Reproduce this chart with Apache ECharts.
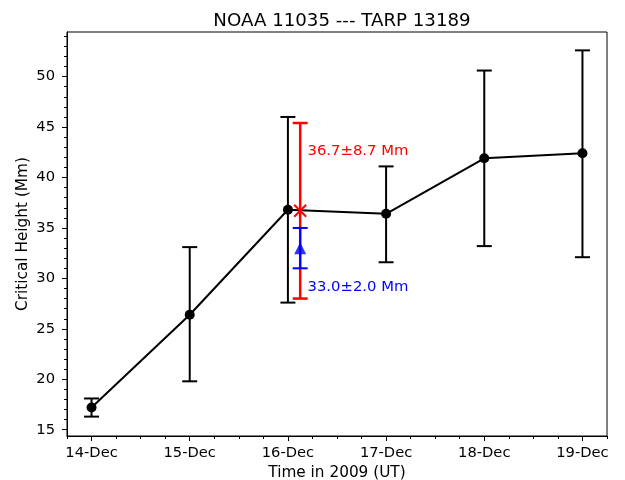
<!DOCTYPE html>
<html>
<head>
<meta charset="utf-8">
<script src="https://cdn.jsdelivr.net/npm/echarts@6/dist/echarts.min.js"></script>
<style>
  html, body { margin: 0; padding: 0; background: #fff; }
  #chart { width: 625px; height: 480px; }
</style>
</head>
<body>
<div id="chart"></div>
<script>
// days on the x axis (0 = 14-Dec)
var dayLabels = ["14-Dec", "15-Dec", "16-Dec", "17-Dec", "18-Dec", "19-Dec"];
var dayPos = [0, 1, 2, 3, 4, 5];

// NOAA 11035 critical heights (Mm) with error range
var heights = [17.2, 26.4, 36.8, 36.4, 41.9, 42.4];
var errLow = [16.3, 19.8, 27.6, 31.6, 33.2, 32.1];
var errHigh = [18.1, 33.1, 46.0, 41.1, 50.6, 52.6];

// TARP 13189 points (red x and blue triangle)
var tarpX = 2.125;
var redVal = 36.7, redErr = 8.7;
var blueVal = 33.0, blueErr = 2.0;
var redText = "36.7\u00b18.7 Mm";
var blueText = "33.0\u00b12.0 Mm";
var textX = 2.2;
var redTextY = 42.6;
var blueTextY = 29.1;

var yTicks = [15, 20, 25, 30, 35, 40, 45, 50];
var yMinor = [];
for (var v = 15; v <= 54; v++) yMinor.push(v);
var xMinor = [];
for (var q = -0.25; q <= 5.25; q += 0.25) xMinor.push(q);

var yMin = 14.38, yMax = 54.42;
var xMin = -0.25, xMax = 5.25;
var font = "DejaVu Sans";

function errBar(color, lw, capHalf) {
    return function (params, api) {
        var x = api.value(0);
        var top = api.coord([x, api.value(2)]);
        var bot = api.coord([x, api.value(1)]);
        var st = { stroke: color, lineWidth: lw };
        return {
            type: "group",
            children: [
                { type: "line", shape: { x1: top[0], y1: top[1], x2: bot[0], y2: bot[1] }, style: st },
                { type: "line", shape: { x1: top[0] - capHalf, y1: top[1], x2: top[0] + capHalf, y2: top[1] }, style: st },
                { type: "line", shape: { x1: bot[0] - capHalf, y1: bot[1], x2: bot[0] + capHalf, y2: bot[1] }, style: st }
            ]
        };
    };
}

var chart = echarts.init(document.getElementById("chart"), null, { renderer: "canvas" });

var option = {
    animation: false,
    backgroundColor: "#fff",
    title: {
        text: "NOAA 11035 --- TARP 13189",
        left: 337,
        top: 7,
        textAlign: "center",
        textStyle: { fontFamily: font, fontSize: 18.2, fontWeight: "normal", color: "#000" }
    },
    grid: {
        left: 67, right: 18, top: 32, bottom: 44,
        outerBoundsMode: "none",
        show: true, borderColor: "#000", borderWidth: 1, backgroundColor: "transparent"
    },
    xAxis: [
        {
            type: "value", min: xMin, max: xMax,
            name: "Time in 2009 (UT)", nameLocation: "middle", nameGap: 30, nameMoveOverlap: false,
            nameTextStyle: { fontFamily: font, fontSize: 15.3, color: "#000" },
            axisLine: { show: true, onZero: false, lineStyle: { color: "#000", width: 1 } },
            axisTick: { show: true, customValues: dayPos, length: 5, lineStyle: { color: "#000", width: 1 } },
            axisLabel: {
                customValues: dayPos, margin: 10,
                fontFamily: font, fontSize: 14.7, color: "#000",
                formatter: function (val) { return dayLabels[Math.round(val)]; }
            },
            splitLine: { show: false }
        },
        {
            type: "value", min: xMin, max: xMax, position: "bottom",
            axisLine: { show: false, onZero: false },
            axisTick: { show: true, customValues: xMinor, length: 3, lineStyle: { color: "#000", width: 1 } },
            axisLabel: { show: false },
            splitLine: { show: false }
        }
    ],
    yAxis: [
        {
            type: "value", min: yMin, max: yMax,
            name: "Critical Height (Mm)", nameLocation: "middle", nameGap: 36, nameMoveOverlap: false,
            nameTextStyle: { fontFamily: font, fontSize: 15.3, color: "#000" },
            axisLine: { show: true, onZero: false, lineStyle: { color: "#000", width: 1 } },
            axisTick: { show: true, customValues: yTicks, length: 5, lineStyle: { color: "#000", width: 1 } },
            axisLabel: { customValues: yTicks, margin: 12, fontFamily: font, fontSize: 14.7, color: "#000" },
            splitLine: { show: false }
        },
        {
            type: "value", min: yMin, max: yMax, position: "left",
            axisLine: { show: false, onZero: false },
            axisTick: { show: true, customValues: yMinor, length: 3, lineStyle: { color: "#000", width: 1 } },
            axisLabel: { show: false },
            splitLine: { show: false }
        }
    ],
    series: [
        {
            type: "custom",
            renderItem: errBar("#000", 2, 7.5),
            encode: { x: 0, y: [1, 2] },
            data: dayPos.map(function (d, i) { return [d, errLow[i], errHigh[i]]; }),
            z: 2
        },
        {
            type: "line",
            data: dayPos.map(function (d, i) { return [d, heights[i]]; }),
            symbol: "circle", symbolSize: 10,
            lineStyle: { color: "#000", width: 2 },
            itemStyle: { color: "#000" },
            z: 3
        },
        {
            type: "custom",
            renderItem: errBar("#ff0000", 2.5, 7.5),
            encode: { x: 0, y: [1, 2] },
            data: [[tarpX, redVal - redErr, redVal + redErr]],
            z: 4
        },
        {
            type: "custom",
            renderItem: function (params, api) {
                var p = api.coord([api.value(0), api.value(1)]);
                var h = 6;
                var st = { stroke: "#ff0000", lineWidth: 2 };
                return {
                    type: "group",
                    children: [
                        { type: "line", shape: { x1: p[0] - h, y1: p[1] - h, x2: p[0] + h, y2: p[1] + h }, style: st },
                        { type: "line", shape: { x1: p[0] - h, y1: p[1] + h, x2: p[0] + h, y2: p[1] - h }, style: st }
                    ]
                };
            },
            encode: { x: 0, y: 1 },
            data: [[tarpX, redVal]],
            z: 5
        },
        {
            type: "custom",
            renderItem: errBar("#0000ff", 2, 7.5),
            encode: { x: 0, y: [1, 2] },
            data: [[tarpX, blueVal - blueErr, blueVal + blueErr]],
            z: 6
        },
        {
            type: "scatter",
            data: [[tarpX, blueVal]],
            symbol: "triangle", symbolSize: [12, 12],
            itemStyle: { color: "#0000ff" },
            z: 7
        },
        {
            type: "custom",
            renderItem: function (params, api) {
                var p = api.coord([api.value(0), api.value(1)]);
                var i = params.dataIndex;
                return {
                    type: "text",
                    x: p[0], y: p[1],
                    style: {
                        text: i === 0 ? redText : blueText,
                        fill: i === 0 ? "#ff0000" : "#0000ff",
                        font: "14.8px " + font,
                        textAlign: "left",
                        textVerticalAlign: "middle"
                    }
                };
            },
            encode: { x: 0, y: 1 },
            data: [[textX, redTextY], [textX, blueTextY]],
            z: 8
        }
    ]
};

chart.setOption(option);
</script>
</body>
</html>
